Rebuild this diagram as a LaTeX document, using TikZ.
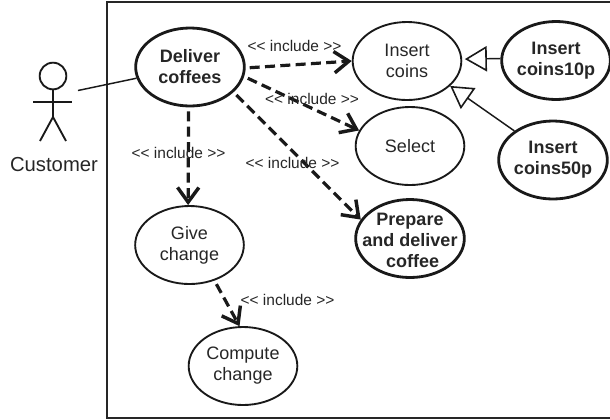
\documentclass[tikz,border=0pt]{standalone}
\usepackage{fontspec}
\setmainfont{Liberation Sans}
\usetikzlibrary{shapes.geometric,arrows.meta}
\tikzset{
 x=0.75pt,y=-0.75pt,
 case/.style={draw=black!90,ellipse,line width=1.4pt,inner sep=-12pt,minimum width=81.5pt,minimum height=58.5pt,align=center,font=\fontsize{13.5}{15.75}\selectfont,text=black!85},
 boldcase/.style={case,line width=2.1pt,font=\fontsize{13.5}{15.75}\selectfont\bfseries},
 incl/.style={draw=black!90,line width=2.4pt,dash pattern=on 7.5pt off 4pt,-{Straight Barb[length=11pt,width=16pt,line width=2.6pt]},shorten <=3pt},
 gen/.style={draw=black!90,line width=1.1pt,-{Triangle[open,length=16.5pt,width=19pt,line width=1.2pt,fill=white]}},
 lab/.style={font=\fontsize{11.6}{14}\selectfont,text=black!85,inner sep=0pt},
 stick/.style={draw=black!90,line width=1.4pt},
}
\begin{document}
\begin{tikzpicture}
\useasboundingbox (0,0) rectangle (610,419);
\draw[draw=black!85,line width=1.5pt] (610,2.3) -- (106.7,2.3) -- (106.7,417.5) -- (610,417.5);
% actor
\node[draw=black!90,circle,line width=1.4pt,minimum size=20pt,inner sep=0pt] (head) at (53,76) {};
\coordinate (hip) at (53,117);
\coordinate (armL) at (33,102);
\coordinate (armR) at (72,102);
\coordinate (legL) at (40,141);
\coordinate (legR) at (66,141);
\coordinate (hand) at (78,90.5);
\draw[stick] (head.south) -- (hip);
\draw[stick] (armL) -- (armR);
\draw[stick] (legL) -- (hip) -- (legR);
\node[font=\fontsize{15.2}{17}\selectfont,text=black!85,inner sep=0pt] (cust) at (54,165) {Customer};
% use cases
\node[boldcase] (deliver) at (190,67) {Deliver\\coffees};
\node[case] (insert) at (407,61) {Insert\\coins};
\node[boldcase] (ten) at (556,60.5) {Insert\\coins10p};
\node[case] (select) at (410,146) {Select};
\node[boldcase] (fifty) at (553,160) {Insert\\coins50p};
\node[boldcase] (prep) at (410,238.5) {\rule{0pt}{12.8pt}Prepare\\and deliver\\\hspace{4pt}coffee};
\node[case] (give) at (189.5,245) {Give\\change};
\node[case] (compute) at (243,366) {Compute\\change};
% connectors
\draw[stick,line width=1.1pt] (hand) -- (deliver);
\draw[incl] (deliver.-1) -- (insert.west);
\draw[incl] (deliver.-10) -- (select.163);
\draw[incl] (deliver.-30) -- (prep.159);
\draw[incl] (deliver.-92) -- (give.92);
\draw[incl] (give.-55) -- (compute.95);
\draw[gen] (ten.178) -- ([xshift=2pt]insert.2);
\draw[gen] (fifty.143) -- (insert.-30);
% labels
\node[lab] (l1) at (294.5,46) {<{}< include >{}>};
\node[lab] (l2) at (312,99) {<{}< include >{}>};
\node[lab] (l3) at (178.5,153) {<{}< include >{}>};
\node[lab] (l4) at (292.5,163) {<{}< include >{}>};
\node[lab] (l5) at (287.5,300) {<{}< include >{}>};
\end{tikzpicture}
\end{document}
